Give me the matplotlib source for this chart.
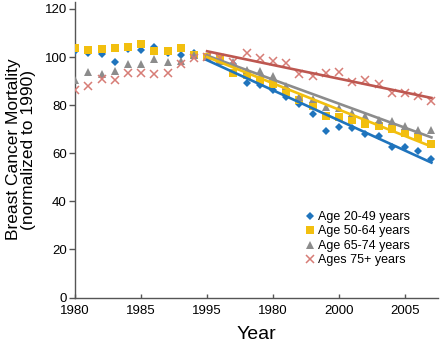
import matplotlib.pyplot as plt
import numpy as np

# Mortality index per age group, normalized so that 1990 = 100
years = np.arange(1980, 2008)

age_20_49 = [102.5, 101.6, 101.2, 98.1, 103.2, 103.0, 104.1, 101.5, 100.8, 101.5,
             100.0, 98.5, 97.0, 89.3, 88.2, 86.3, 83.5, 80.5, 76.3, 69.4,
             70.8, 70.4, 67.8, 67.1, 62.8, 62.7, 61.0, 57.6]
age_50_64 = [103.9, 102.8, 103.5, 103.9, 104.3, 105.3, 102.7, 102.4, 103.9, 100.7,
             100.0, 99.0, 93.4, 92.5, 90.3, 88.6, 85.4, 82.3, 79.8, 75.5,
             75.0, 74.0, 72.2, 71.2, 70.0, 68.5, 66.6, 63.9]
age_65_74 = [90.3, 93.8, 93.0, 94.4, 97.1, 97.0, 99.0, 97.8, 98.4, 100.8,
             100.0, 98.4, 98.0, 94.5, 94.2, 92.0, 88.0, 83.2, 82.5, 79.4,
             79.0, 76.8, 75.5, 74.0, 73.3, 71.3, 69.5, 69.6]
age_75_up = [86.5, 88.1, 91.0, 90.3, 93.4, 93.4, 93.1, 93.4, 96.9, 99.4,
             100.0, 99.8, 97.8, 101.6, 99.5, 98.4, 97.4, 92.8, 92.3, 93.3,
             93.7, 89.5, 90.5, 88.8, 85.2, 85.0, 83.6, 81.9]

# Linear trends since 1990 (start and end values)
trend_years = [1990, 2007]
trend_20_49 = [98.7, 56.1]
trend_50_64 = [100.0, 62.8]
trend_65_74 = [100.6, 66.6]
trend_75_up = [102.4, 83.0]

tick_years = [1980, 1985, 1990, 1995, 2000, 2005]
tick_labels = ['1980', '1985', '1995', '1980', '2000', '2005']

BLUE = '#1f74bd'
GOLD = '#f2bf0f'
GRAY = '#8c8c8c'
RED = '#bd5750'
RED_LIGHT = '#d77c76'

plt.rcParams['font.family'] = ['Liberation Sans', 'DejaVu Sans']
narrow = ['Liberation Sans Narrow', 'Liberation Sans', 'DejaVu Sans']

fig = plt.figure(figsize=(4.42, 3.44), dpi=100)
ax = fig.add_axes([0.170, 0.135, 0.821, 0.860])

ax.plot(years, age_20_49, 'D', color=BLUE, ms=4.5, mew=0, label='Age 20-49 years', zorder=3)
ax.plot(years, age_50_64, 's', color=GOLD, ms=6, mew=0, label='Age 50-64 years', zorder=3)
ax.plot(years, age_65_74, '^', color=GRAY, ms=6.2, mew=0, label='Age 65-74 years', zorder=3)
ax.plot(years, age_75_up, 'x', color=RED_LIGHT, ms=5.2, mew=1.1, label='Ages 75+ years', zorder=3)

ax.plot(trend_years, trend_75_up, color=RED, lw=1.9, zorder=4)
ax.plot(trend_years, trend_65_74, color=GRAY, lw=1.9, zorder=4)
ax.plot(trend_years, trend_50_64, color=GOLD, lw=1.9, zorder=4)
ax.plot(trend_years, trend_20_49, color=BLUE, lw=1.9, zorder=4)

ax.set_xlim(1980, 2007.5)
ax.set_ylim(0, 123)
ax.set_yticks(range(0, 121, 20))
ax.set_xticks(tick_years)
ax.set_xticklabels(tick_labels)

for side in ['top', 'right']:
    ax.spines[side].set_visible(False)
for side in ['left', 'bottom']:
    ax.spines[side].set_color('#555555')
    ax.spines[side].set_linewidth(1.0)

ax.tick_params(axis='y', direction='out', length=4, width=1, color='#555555',
               labelsize=9.5, pad=2)
ax.tick_params(axis='x', direction='in', length=3, width=1, color='#555555',
               labelsize=9.5, pad=5)

ax.set_xlabel('Year', family=narrow, fontsize=14, labelpad=7)
ax.set_ylabel('Breast Cancer Mortality\n(normalized to 1990)', family=narrow,
              fontsize=12.5, linespacing=1.0, labelpad=6)

ax.legend(loc='lower left', bbox_to_anchor=(0.635, 0.105), frameon=False,
          fontsize=9, handlelength=0.7, handletextpad=0.3, labelspacing=0.2,
          borderaxespad=0, borderpad=0)

fig.savefig('out.png', dpi=100)
